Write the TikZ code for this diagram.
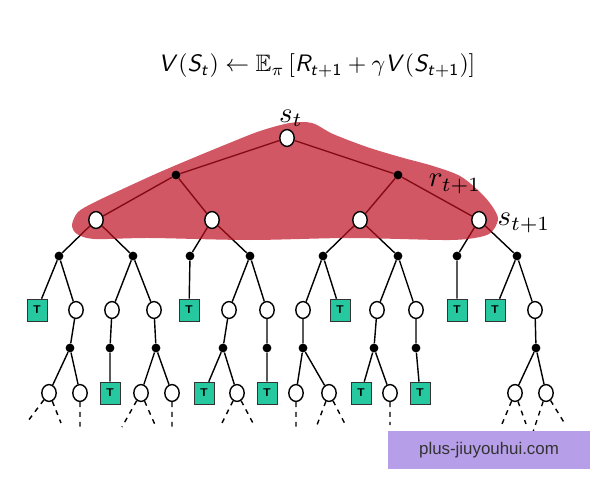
\documentclass[tikz,border=0pt]{standalone}
\usepackage{amssymb}
\usepackage{fontspec}
\newfontfamily\wmfont{Liberation Sans}
\usetikzlibrary{shapes.geometric}
\DeclareMathAlphabet{\mathsl}{OT1}{cmss}{m}{sl}
\DeclareMathAlphabet{\mathsn}{OT1}{cmss}{m}{n}
\definecolor{blobRed}{RGB}{191,16,34}
\definecolor{termTeal}{RGB}{38,200,160}
\definecolor{wmLilac}{RGB}{182,158,232}
\pgfdeclarelayer{edges}
\pgfdeclarelayer{blob}
\pgfsetlayers{edges,blob,main}

\begin{document}
\begin{tikzpicture}[x=0.025cm,y=-0.025cm,
  snode/.style={draw,ellipse,fill=white,line width=1pt,minimum width=0.36cm,minimum height=0.42cm,inner sep=0pt},
  anode/.style={circle,fill=black,minimum size=0.22cm,inner sep=0pt},
  tnode/.style={draw=black!80,fill=termTeal,minimum width=0.5cm,minimum height=0.55cm,inner sep=0pt,font=\sffamily\bfseries\footnotesize},
  link/.style={line width=1pt},
  cont/.style={line width=1pt,dash pattern=on 3.5pt off 3.5pt},
  lab/.style={scale=2.05,inner sep=0pt},
  wmbox/.style={fill=wmLilac,minimum width=5.05cm,minimum height=0.95cm,font=\wmfont\fontsize{12}{14}\selectfont,text=black!80}
]
\useasboundingbox (0,0) rectangle (600,480);
\node[scale=1.69] (eq) at (317,66) {$\mathsl{V}(\mathsl{S}_{\mathsl{t}})\leftarrow\mathbb{E}_{\pi}\,[\mathsl{R}_{\mathsl{t}+\mathsn{1}}+\gamma\mathsl{V}(\mathsl{S}_{\mathsl{t}+\mathsn{1}})]$};

\node[snode] (st) at (287,138) {};
\node[anode] (a1) at (176,175) {};
\node[anode] (a2) at (398,175) {};
\node[snode] (s1) at (96,220) {};
\node[snode] (s2) at (212,220) {};
\node[snode] (s3) at (360,220) {};
\node[snode] (s4) at (479,220) {};

\node[anode] (b1) at (59,256) {};
\node[anode] (b2) at (133,256) {};
\node[anode] (b3) at (190,256) {};
\node[anode] (b4) at (250,256) {};
\node[anode] (b5) at (323,256) {};
\node[anode] (b6) at (398,256) {};
\node[anode] (b7) at (457,256) {};
\node[anode] (b8) at (517,256) {};

\node[tnode] (q1) at (37,310) {T};
\node[snode] (q2) at (76,310) {};
\node[snode] (q3) at (112,310) {};
\node[snode] (q4) at (154,310) {};
\node[tnode] (q5) at (189,310) {T};
\node[snode] (q6) at (229,310) {};
\node[snode] (q7) at (267,310) {};
\node[snode] (q8) at (303,310) {};
\node[tnode] (q9) at (340,310) {T};
\node[snode] (q10) at (377,310) {};
\node[snode] (q11) at (416,310) {};
\node[tnode] (q12) at (457,310) {T};
\node[tnode] (q13) at (495,310) {T};
\node[snode] (q14) at (535,310) {};

\node[anode] (c1) at (70,348) {};
\node[anode] (c2) at (110,348) {};
\node[anode] (c3) at (156,348) {};
\node[anode] (c4) at (223,348) {};
\node[anode] (c5) at (267,348) {};
\node[anode] (c6) at (303,348) {};
\node[anode] (c7) at (374,348) {};
\node[anode] (c8) at (416,348) {};
\node[anode] (c9) at (536,348) {};

\node[snode] (p1) at (49,393) {};
\node[snode] (p2) at (80,393) {};
\node[tnode] (p3) at (110,393) {T};
\node[snode] (p4) at (141,393) {};
\node[snode] (p5) at (172,393) {};
\node[tnode] (p6) at (204,393) {T};
\node[snode] (p7) at (237,393) {};
\node[tnode] (p8) at (267,393) {T};
\node[snode] (p9) at (296,393) {};
\node[snode] (p10) at (329,393) {};
\node[tnode] (p11) at (361,393) {T};
\node[snode] (p12) at (390,393) {};
\node[tnode] (p13) at (420,393) {T};
\node[snode] (p14) at (515,393) {};
\node[snode] (p15) at (546,393) {};

\coordinate (e1) at (28,421);
\coordinate (e2) at (61,423);
\coordinate (e3) at (80,427);
\coordinate (e4) at (122,427);
\coordinate (e5) at (156,427);
\coordinate (e6) at (172,430);
\coordinate (e7) at (220,427);
\coordinate (e8) at (254,425);
\coordinate (e9) at (296,430);
\coordinate (e10) at (317,425);
\coordinate (e11) at (345,424);
\coordinate (e12) at (390,425);
\coordinate (e13) at (502,424);
\coordinate (e14) at (526,424);
\coordinate (e15) at (533,432);
\coordinate (e16) at (565,424);

\node[lab] (lst) at (291,118) {$s_t$};
\node[lab] (lrt) at (455,184) {$r_{t+1}$};
\node[lab] (lsn) at (524,223) {$s_{t+1}$};

\begin{pgfonlayer}{edges}
\draw[link] (st) -- (a1) (st) -- (a2) (a1) -- (s1) (a1) -- (s2) (a2) -- (s3) (a2) -- (s4);
\draw[link] (s1) -- (b1) (s1) -- (b2) (s2) -- (b3) (s2) -- (b4) (s3) -- (b5) (s3) -- (b6) (s4) -- (b7) (s4) -- (b8);
\draw[link] (b1) -- (q1) (b1) -- (q2) (b2) -- (q3) (b2) -- (q4) (b3) -- (q5) (b4) -- (q6) (b4) -- (q7)
  (b5) -- (q8) (b5) -- (q9) (b6) -- (q10) (b6) -- (q11) (b7) -- (q12) (b8) -- (q13) (b8) -- (q14);
\draw[link] (q2) -- (c1) (q3) -- (c2) (q4) -- (c3) (q6) -- (c4) (q7) -- (c5) (q8) -- (c6) (q10) -- (c7) (q11) -- (c8) (q14) -- (c9);
\draw[link] (c1) -- (p1) (c1) -- (p2) (c2) -- (p3) (c3) -- (p4) (c3) -- (p5) (c4) -- (p6) (c4) -- (p7) (c5) -- (p8)
  (c6) -- (p9) (c6) -- (p10) (c7) -- (p11) (c7) -- (p12) (c8) -- (p13) (c9) -- (p14) (c9) -- (p15);
\draw[cont] (p1) -- (e1) (p1) -- (e2) (p2) -- (e3) (p4) -- (e4) (p4) -- (e5) (p5) -- (e6) (p7) -- (e7) (p7) -- (e8)
  (p9) -- (e9) (p10) -- (e10) (p10) -- (e11) (p12) -- (e12) (p14) -- (e13) (p14) -- (e14) (p15) -- (e15) (p15) -- (e16);
\end{pgfonlayer}

\begin{pgfonlayer}{blob}
\fill[blobRed,fill opacity=0.7] plot[smooth cycle,tension=0.5] coordinates {(72,225) (78,212) (95,202) (127,187) (160,172) (193,158) (227,144) (260,131) (290,123) (312,123) (333,134) (367,147) (400,157) (433,166) (460,176) (480,192) (492,206) (498,218) (494,229) (484,236) (450,240) (350,238) (250,240) (150,238) (95,239) (77,234)};
\end{pgfonlayer}

\node[wmbox] (wm) at (489,450) {plus-jiuyouhui.com};
\end{tikzpicture}
\end{document}
